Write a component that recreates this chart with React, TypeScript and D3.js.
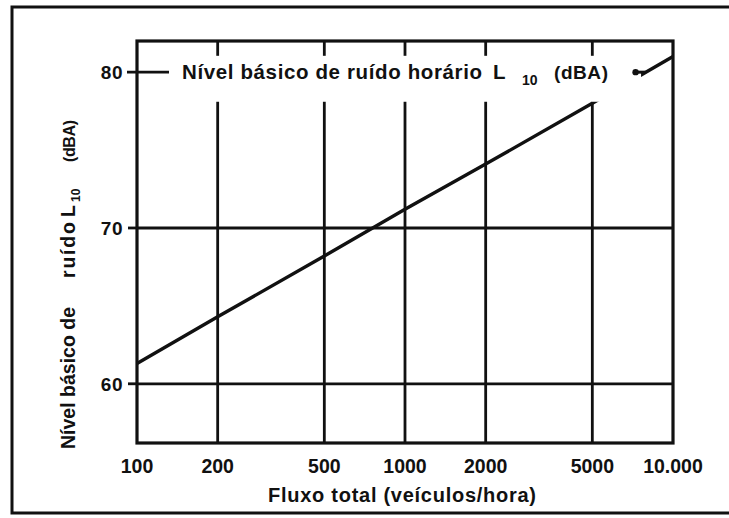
import React, { useEffect, useRef } from 'react';
import * as d3 from 'd3';

// values
const flows = [100, 200, 500, 1000, 2000, 5000, 10000];
const noiseL10 = [61.3, 64.3, 68.2, 71.2, 74.1, 78.0, 81.0];
const xTicks = [100, 200, 500, 1000, 2000, 5000, 10000];
const xTickLabels = ['100', '200', '500', '1000', '2000', '5000', '10.000'];
const yTicks = [60, 70, 80];

const W = 729;
const H = 518;

export default function App() {
    const ref = useRef<SVGSVGElement>(null);

    useEffect(() => {
        const svg = d3.select(ref.current);
        svg.selectAll('*').remove();

        const font = '"Liberation Sans", Arial, sans-serif';
        const ink = '#111';
        const x = d3.scaleLog().domain([100, 10000]).range([137, 673]);
        const y = d3.scaleLinear().domain([56.2, 82]).range([443, 41]);
        const [x0, x1] = x.range();
        const [yb, yt] = y.range();

        svg.append('rect').attr('width', W).attr('height', H).attr('fill', '#fff');

        // outer frame (right edge falls outside the scan)
        svg.append('path')
            .attr('d', `M${W + 5},7 H12 V513 H${W + 5}`)
            .attr('fill', 'none')
            .attr('stroke', ink)
            .attr('stroke-width', 3);

        // grid
        svg.append('g')
            .selectAll('line')
            .data([60, 70])
            .enter().append('line')
            .attr('x1', x0).attr('x2', x1)
            .attr('y1', d => y(d)).attr('y2', d => y(d))
            .attr('stroke', ink).attr('stroke-width', 2.8);

        svg.append('g')
            .selectAll('line')
            .data(xTicks.slice(1, -1))
            .enter().append('line')
            .attr('x1', d => x(d)).attr('x2', d => x(d))
            .attr('y1', yt).attr('y2', yb)
            .attr('stroke', ink).attr('stroke-width', 2.8);

        const line = d3.line<number>()
            .x((d, i) => x(flows[i]))
            .y(d => y(d));

        svg.append('path')
            .datum(noiseL10)
            .attr('d', line)
            .attr('fill', 'none')
            .attr('stroke', ink)
            .attr('stroke-width', 3.4);

        // white strip behind the legend caption
        svg.append('rect')
            .attr('x', x0 + 3)
            .attr('y', y(81.05))
            .attr('width', x(7600) - x0 - 3)
            .attr('height', y(78.1) - y(81.05))
            .attr('fill', '#fff');

        // plot frame
        svg.append('rect')
            .attr('x', x0).attr('y', yt)
            .attr('width', x1 - x0).attr('height', yb - yt)
            .attr('fill', 'none')
            .attr('stroke', ink).attr('stroke-width', 3.2);

        // 80 tick with short stub, and the small 60/70 ticks
        svg.append('line')
            .attr('x1', x0 - 10).attr('x2', x0 + 32)
            .attr('y1', y(80)).attr('y2', y(80))
            .attr('stroke', ink).attr('stroke-width', 2.8);
        svg.append('g')
            .selectAll('line')
            .data([60, 70])
            .enter().append('line')
            .attr('x1', x0 - 9).attr('x2', x0)
            .attr('y1', d => y(d)).attr('y2', d => y(d))
            .attr('stroke', ink).attr('stroke-width', 2.8);

        const txt = (parent: any, tx: number, ty: number, size: number, s: string, len?: number) => {
            const t = parent.append('text')
                .attr('x', tx).attr('y', ty)
                .attr('font-family', font)
                .attr('font-weight', 'bold')
                .attr('font-size', size)
                .attr('fill', ink)
                .text(s);
            if (len) t.attr('textLength', len);
            return t;
        };

        // legend caption
        const capY = y(80) + 7;
        txt(svg, x0 + 45, capY, 20.5, 'Nível básico de ruído horário', 300);
        txt(svg, x0 + 356, capY, 20.5, 'L');
        txt(svg, x0 + 385, capY + 6, 14, '10');
        txt(svg, x0 + 417, capY, 19, '(dBA)', 54);

        // leader to the line
        svg.append('line')
            .attr('x1', x(7250)).attr('x2', x(7900))
            .attr('y1', y(80)).attr('y2', y(80))
            .attr('stroke', ink).attr('stroke-width', 3);
        svg.append('circle')
            .attr('cx', x(7250)).attr('cy', y(80)).attr('r', 3.2)
            .attr('fill', ink);

        // y tick labels
        svg.append('g')
            .selectAll('text')
            .data(yTicks)
            .enter().append('text')
            .attr('x', x0 - 14)
            .attr('y', d => y(d) + 7)
            .attr('text-anchor', 'end')
            .attr('font-family', font)
            .attr('font-weight', 'bold')
            .attr('font-size', 19)
            .attr('letter-spacing', 0.5)
            .attr('fill', ink)
            .text(d => d);

        // x tick labels
        svg.append('g')
            .selectAll('text')
            .data(xTicks)
            .enter().append('text')
            .attr('x', d => x(d))
            .attr('y', yb + 30)
            .attr('text-anchor', 'middle')
            .attr('font-family', font)
            .attr('font-weight', 'bold')
            .attr('font-size', 19.5)
            .attr('fill', ink)
            .text((d, i) => xTickLabels[i]);

        // x title
        txt(svg, 268, yb + 59, 20, 'Fluxo total (veículos/hora)', 268);

        // y title, rotated; pieces placed along the axis like the original
        const g = svg.append('g').attr('transform', 'translate(75,0) rotate(-90)');
        txt(g, -449, 0, 19.5, 'Nível básico de', 142);
        txt(g, -278, 0, 19.5, 'ruído', 56);
        txt(g, -217, 0, 19.5, 'L');
        txt(g, -202, 5, 12, '10');
        txt(g, -162, 0, 16, '(dBA)', 42);
    }, []);

    return (
        <svg
            ref={ref}
            width={W}
            height={H}
            style={{ position: 'absolute', left: 0, top: 0 }}
        />
    );
}
